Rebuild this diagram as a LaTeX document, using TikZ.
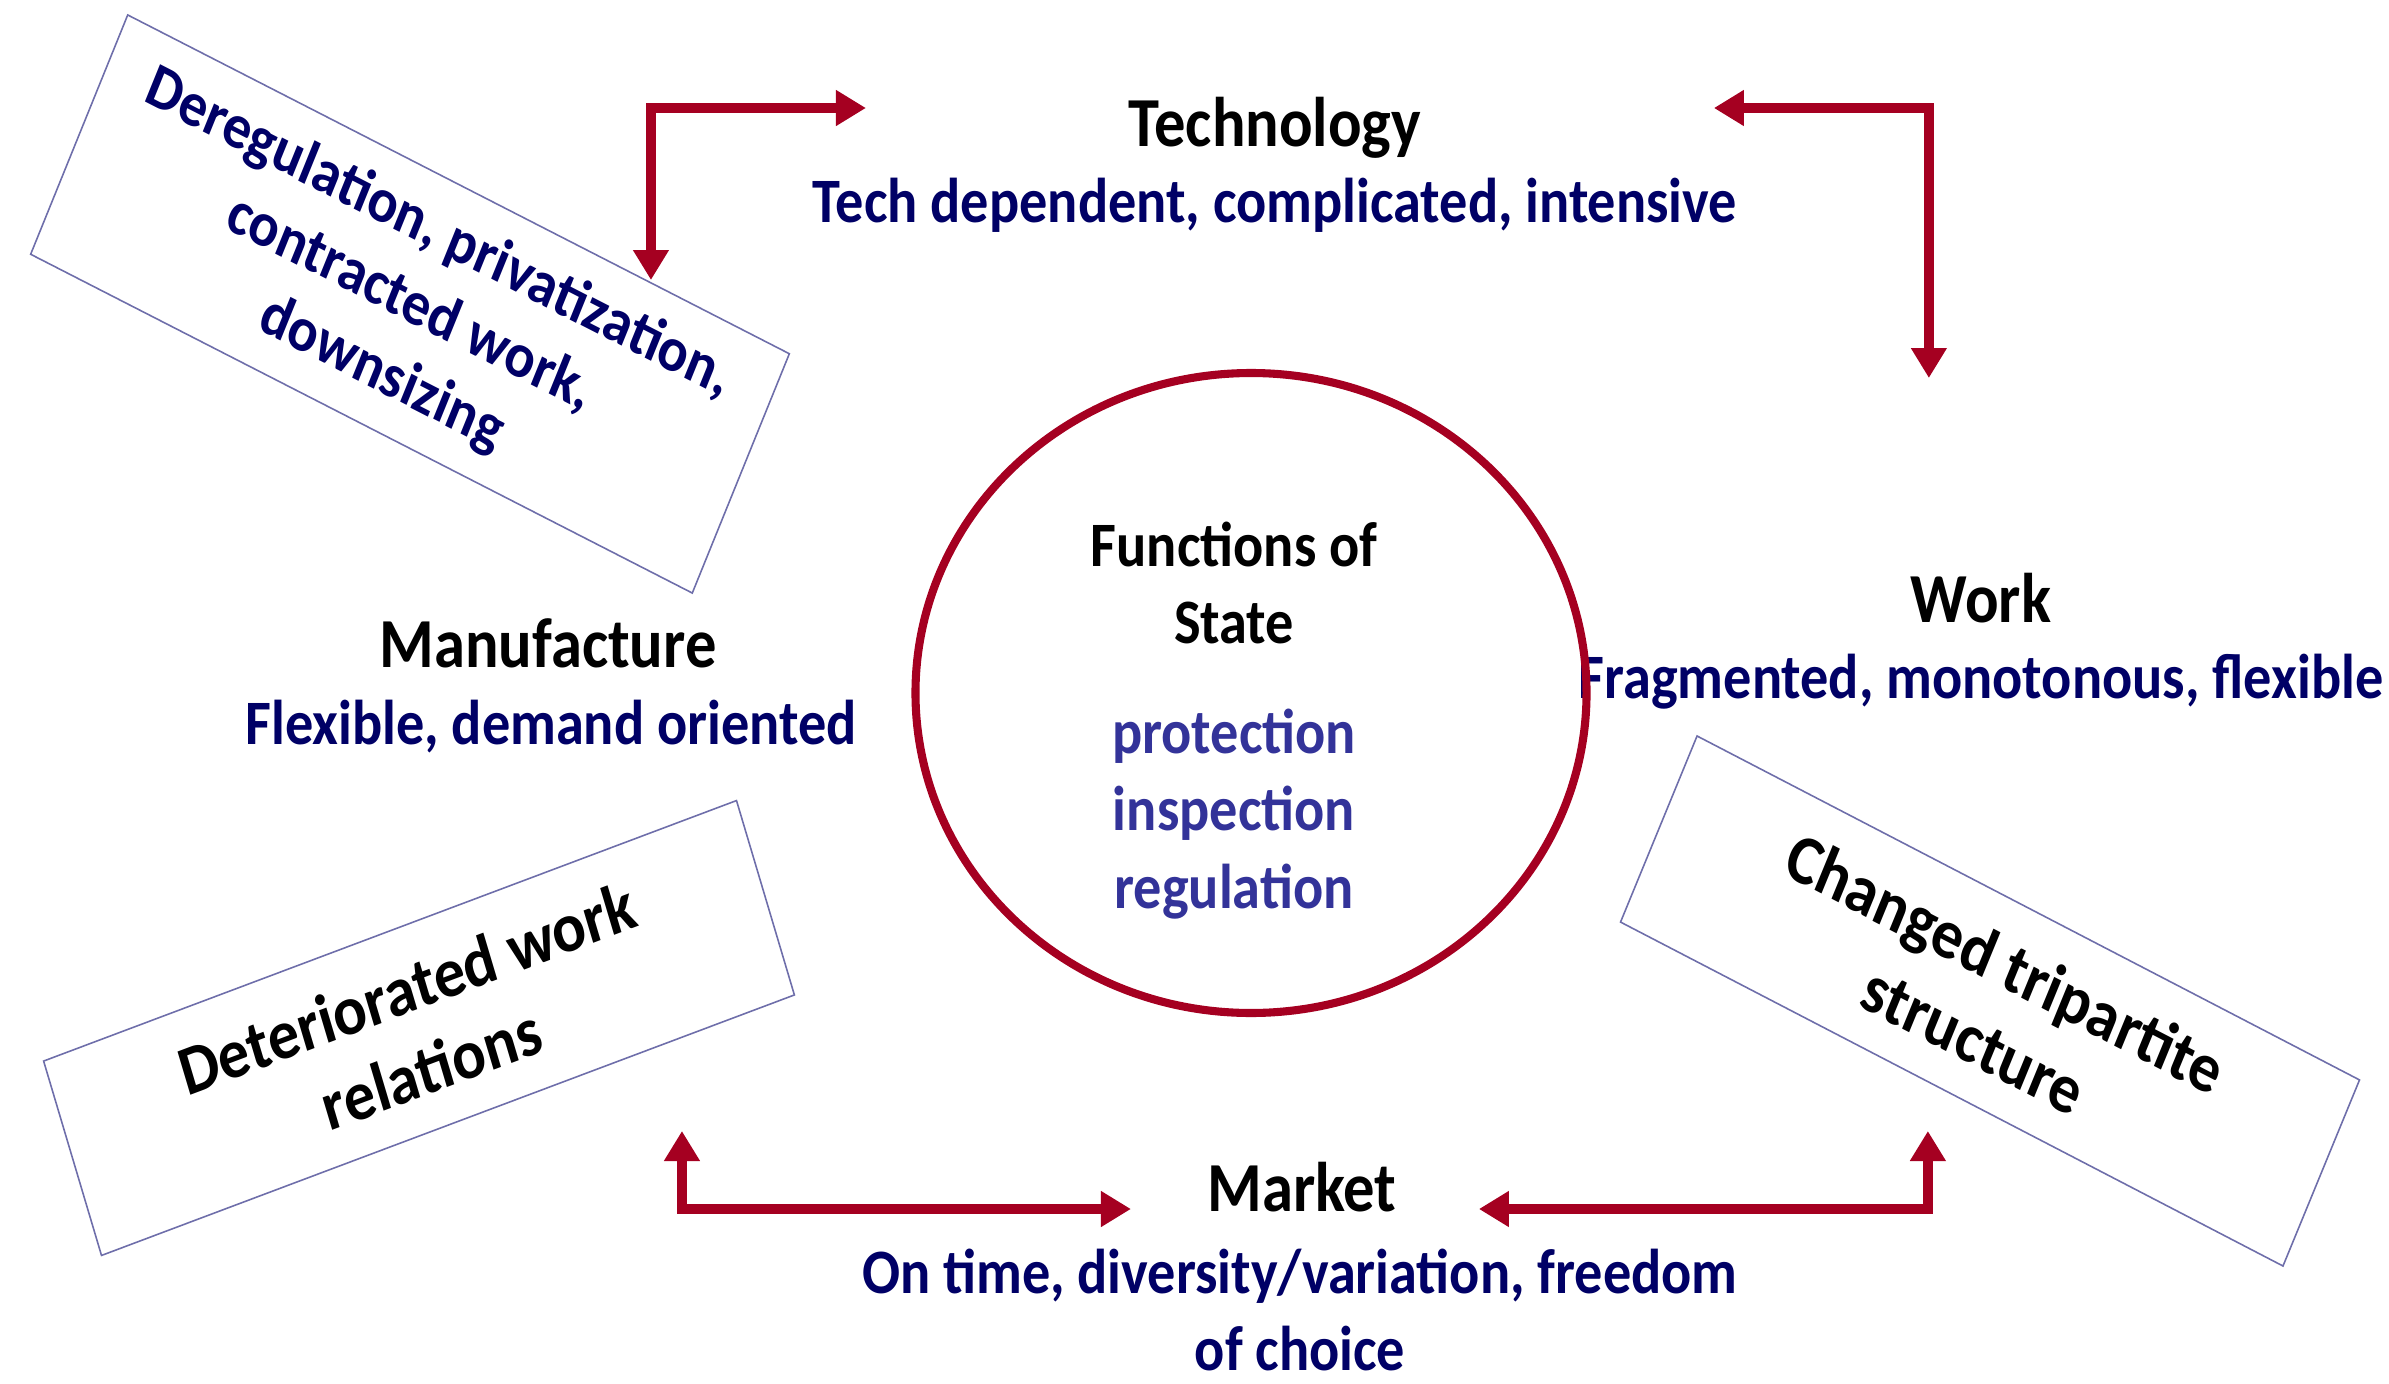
\documentclass[tikz,border=0pt]{standalone}
\usepackage{fontspec}
\setmainfont{Carlito}
\usetikzlibrary{arrows.meta}
\usetikzlibrary{shapes.geometric}

\definecolor{darkred}{RGB}{165,0,33}
\definecolor{navy}{RGB}{0,0,102}
\definecolor{midblue}{RGB}{51,51,153}
\definecolor{boxline}{RGB}{110,110,170}

\begin{document}
\begin{tikzpicture}
[x=0.11236mm,y=-0.1mm,xscale=.89,
every node/.style={transform shape,font=\bfseries,inner sep=0pt},
head/.style={font=\bfseries\fontsize{20}{24}\selectfont,anchor=base},
sub/.style={font=\bfseries\fontsize{18}{22}\selectfont,text=navy,anchor=base},
tilted/.style={draw=boxline,line width=.45pt,align=center,font=\bfseries\fontsize{20}{24}\selectfont},
elbow/.style={draw=darkred,line width=3pt,{Triangle[length=3mm,width=3.4mm]}-{Triangle[length=3mm,width=3.4mm]}}]

\useasboundingbox (0,0) rectangle (2389,1384);

\node[head] (tech) at (1275,146) {Technology};
\node[sub] (techtxt) at (1275,222) {Tech dependent, complicated, intensive};
\node[head] (manu) at (548,667) {Manufacture};
\node[sub] (manutxt) at (551,744) {Flexible, demand oriented};
\node[head] (work) at (1981,622) {Work};
\node[sub] (worktxt) at (1981,698) {Fragmented, monotonous, flexible};
\node[head] (market) at (1302,1211) {Market};
\node[sub,anchor=center,align=center] (markettxt) at (1300,1310) {On time, diversity/variation, freedom\\of choice};

%state
\node[ellipse,draw=darkred,line width=2.3pt,minimum width=75.4mm,minimum height=64mm] (state) at (1251,693) {};
\node[font=\bfseries\fontsize{18}{22}\selectfont,align=center] (fos) at (1234,583) {Functions of\\State};
\node[font=\bfseries\fontsize{18}{22}\selectfont,text=midblue,align=center] (tasks) at (1234,814) {protection\\inspection\\regulation};

%tilted boxes
\node[tilted,minimum width=81.7mm,minimum height=26.3mm,rotate=-24.5,text=navy,font=\bfseries\fontsize{18}{22}\selectfont] (dereg) at (410,304) {Deregulation, privatization,\\contracted work,\\downsizing};
\node[tilted,minimum width=82.1mm,minimum height=20.5mm,rotate=18.5] (deter) at (419,1028) {Deteriorated work\\relations};
\node[tilted,minimum width=82mm,minimum height=20.5mm,rotate=-24.8] (tri) at (1990,1001) {Changed tripartite\\structure};

\coordinate (t1) at (651,280);
\coordinate (t2) at (866,108);
\coordinate (t3) at (1714,108);
\coordinate (t4) at (1929,378);
\coordinate (m1) at (682,1131);
\coordinate (m2) at (1131,1209);
\coordinate (m3) at (1479,1209);
\coordinate (m4) at (1928,1131);

\foreach \from/\to in {t1/t2,t4/t3,m1/m2,m4/m3}
\draw[elbow] (\from) |- (\to);

\end{tikzpicture}
\end{document}
